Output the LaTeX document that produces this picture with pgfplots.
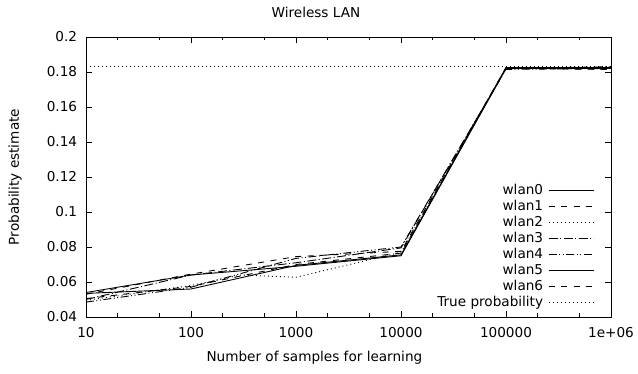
\documentclass[border=0pt]{standalone}
\usepackage{fontspec}
\setmainfont{DejaVu Sans}
\usepackage{pgfplots}
\pgfplotsset{compat=1.18}
\usetikzlibrary{calc}
\begin{document}
\fontsize{13.6bp}{16bp}\selectfont
\begin{tikzpicture}
\begin{axis}[
  scale only axis, width=525bp, height=280bp,
  xmode=log, xmin=10, xmax=1000000, ymin=0.04, ymax=0.2,
  xtick={10,100,1000,10000,100000,1000000},
  xticklabels={10,100,1000,10000,100000,1e+06},
  minor xtick={20,50,200,500,2000,5000,20000,50000,200000,500000},
  ytick={0.04,0.06,0.08,0.1,0.12,0.14,0.16,0.18,0.2},
  yticklabels={0.04,0.06,0.08,0.1,0.12,0.14,0.16,0.18,0.2},
  tick align=inside, major tick length=6bp, minor tick length=3.5bp,
  axis line style={line width=0.8bp},
  every tick/.style={black, line width=0.8bp},
  xticklabel style={anchor=center, inner sep=0pt, yshift=-15.5bp},
  yticklabel style={anchor=east, inner sep=0pt, xshift=-8.7bp},
  title={Wireless LAN},
  every axis title shift=0pt,
  title style={at={(axis description cs:0.438,1)}, anchor=center, inner sep=0pt, yshift=25bp},
  xlabel={Number of samples for learning},
  xlabel style={at={(axis description cs:0.435,0)}, anchor=center, inner sep=0pt, yshift=-41bp},
  ylabel={Probability estimate},
  ylabel style={at={(axis description cs:-0.1352,0.5)}, anchor=center, inner sep=0pt},
  legend plot pos=right,
  legend cell align=right,
  legend image code/.code={\draw[#1] (0bp,0bp) -- (45bp,0bp);},
  legend style={draw=none, fill=none, inner sep=0pt, outer sep=0pt,
    at={(rel axis cs:1,0)}, anchor=south east, xshift=-17bp, yshift=8bp,
    row sep=3bp, column sep=5bp,
    nodes={inner sep=0pt, text height=10bp, text depth=3bp}},
  every axis plot/.append style={black, line width=0.9bp},
]
\addplot[solid] coordinates {(10,0.0540) (100,0.0640) (1000,0.0690) (10000,0.0750) (100000,0.1820) (1000000,0.1820)};
\addlegendentry{wlan0}
\addplot[dash pattern=on 6bp off 6.5bp] coordinates {(10,0.0530) (100,0.0645) (1000,0.0745) (10000,0.0775) (100000,0.1825) (1000000,0.1815)};
\addlegendentry{wlan1}
\addplot[dash pattern=on 1bp off 3bp] coordinates {(10,0.0495) (100,0.0580) (300,0.0640) (1000,0.0627) (10000,0.0770) (100000,0.1820) (1000000,0.1820)};
\addlegendentry{wlan2}
\addplot[dash pattern=on 9bp off 2.5bp on 1bp off 2.5bp] coordinates {(10,0.0500) (100,0.0640) (1000,0.0710) (10000,0.0795) (100000,0.1820) (1000000,0.1830)};
\addlegendentry{wlan3}
\addplot[dash pattern=on 8bp off 2.5bp on 1bp off 2.5bp on 1bp off 2.5bp] coordinates {(10,0.0485) (100,0.0570) (1000,0.0735) (10000,0.0800) (100000,0.1815) (1000000,0.1820)};
\addlegendentry{wlan4}
\addplot[solid] coordinates {(10,0.0535) (100,0.0560) (1000,0.0695) (10000,0.0755) (100000,0.1825) (1000000,0.1825)};
\addlegendentry{wlan5}
\addplot[dash pattern=on 6bp off 6.5bp] coordinates {(10,0.0505) (100,0.0575) (1000,0.0700) (10000,0.0765) (100000,0.1820) (1000000,0.1815)};
\addlegendentry{wlan6}
\addplot[dash pattern=on 1bp off 3bp] coordinates {(10,0.1834) (1000000,0.1834)};
\addlegendentry{True probability}
\end{axis}
\pgfresetboundingbox
\path[use as bounding box] ($(current axis.south west)+(-86bp,-57bp)$) rectangle ($(current axis.north east)+(27bp,37bp)$);
\end{tikzpicture}
\end{document}
